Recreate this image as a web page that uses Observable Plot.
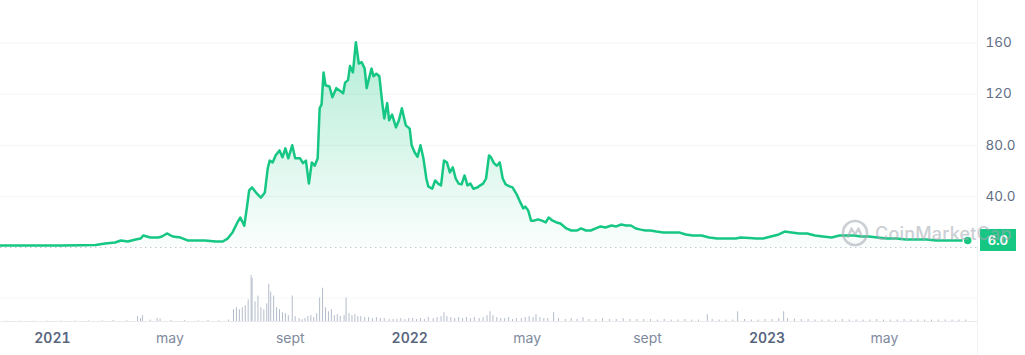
<!DOCTYPE html>
<html><head><meta charset="utf-8">
<script src="https://cdn.jsdelivr.net/npm/d3@7"></script>
<script src="https://cdn.jsdelivr.net/npm/@observablehq/plot@0.6"></script>
<style>
body{margin:0;background:#fff;font-family:Inter,"Noto Sans",sans-serif;}
#chart{position:relative;width:1025px;height:355px;overflow:hidden;background:#fff}
#chart svg{display:block}
#wm{position:absolute;left:841px;top:219px;display:flex;align-items:center;gap:6px;opacity:0.55;pointer-events:none;
  font-family:Inter,sans-serif;font-size:18px;font-weight:500;color:#a3a8b2;letter-spacing:0.2px}
</style></head><body>
<div id="chart"></div>
<script>
// ---- price series (USD) ----
const priceDates = ["2020-11-09","2020-11-29","2020-12-20","2021-01-09","2021-01-30","2021-02-14","2021-02-24","2021-03-06","2021-03-12","2021-03-19","2021-03-27","2021-04-01","2021-04-04","2021-04-11","2021-04-19","2021-04-23","2021-04-28","2021-05-04","2021-05-12","2021-05-19","2021-05-27","2021-06-06","2021-06-17","2021-06-24","2021-06-29","2021-07-04","2021-07-09","2021-07-12","2021-07-16","2021-07-19","2021-07-21","2021-07-24","2021-07-28","2021-08-02","2021-08-06","2021-08-09","2021-08-11","2021-08-14","2021-08-17","2021-08-21","2021-08-24","2021-08-27","2021-08-30","2021-09-03","2021-09-06","2021-09-11","2021-09-14","2021-09-17","2021-09-20","2021-09-23","2021-09-26","2021-09-29","2021-10-01","2021-10-03","2021-10-05","2021-10-07","2021-10-11","2021-10-14","2021-10-18","2021-10-21","2021-10-25","2021-10-27","2021-10-30","2021-11-01","2021-11-04","2021-11-07","2021-11-10","2021-11-13","2021-11-16","2021-11-18","2021-11-20","2021-11-23","2021-11-25","2021-11-28","2021-12-01","2021-12-04","2021-12-06","2021-12-09","2021-12-11","2021-12-14","2021-12-18","2021-12-21","2021-12-24","2021-12-28","2022-01-01","2022-01-03","2022-01-06","2022-01-09","2022-01-12","2022-01-15","2022-01-18","2022-01-20","2022-01-24","2022-01-27","2022-01-30","2022-02-02","2022-02-05","2022-02-08","2022-02-11","2022-02-14","2022-02-17","2022-02-20","2022-02-23","2022-02-26","2022-03-01","2022-03-04","2022-03-07","2022-03-11","2022-03-14","2022-03-17","2022-03-20","2022-03-23","2022-03-25","2022-03-28","2022-03-31","2022-04-03","2022-04-06","2022-04-09","2022-04-13","2022-04-16","2022-04-20","2022-04-23","2022-04-27","2022-04-29","2022-05-02","2022-05-05","2022-05-08","2022-05-12","2022-05-16","2022-05-20","2022-05-23","2022-05-27","2022-05-31","2022-06-04","2022-06-10","2022-06-15","2022-06-21","2022-06-25","2022-06-30","2022-07-05","2022-07-10","2022-07-15","2022-07-20","2022-07-26","2022-07-31","2022-08-05","2022-08-10","2022-08-15","2022-08-20","2022-08-25","2022-08-30","2022-09-04","2022-09-10","2022-09-17","2022-09-25","2022-10-03","2022-10-10","2022-10-17","2022-10-26","2022-11-03","2022-11-11","2022-11-20","2022-11-30","2022-12-05","2022-12-14","2022-12-21","2022-12-28","2023-01-05","2023-01-13","2023-01-19","2023-01-26","2023-02-03","2023-02-11","2023-02-19","2023-02-27","2023-03-08","2023-03-16","2023-03-24","2023-03-31","2023-04-07","2023-04-15","2023-04-24","2023-05-03","2023-05-13","2023-05-23","2023-06-02","2023-06-13","2023-06-23","2023-07-03","2023-07-13","2023-07-25"];
const priceValues = [1.6,1.5,1.6,1.5,1.7,2.0,3.1,3.9,5.5,4.7,6.3,7.0,9.4,7.8,7.8,8.6,11,8.6,7.8,5.5,5.5,5.5,4.7,4.7,7.0,11.8,19.6,23.5,17,33,44.7,47,43,39,43,62,68,66.6,72,76,70.6,77.6,69.8,80,69.8,69.8,66,68,50,66.6,64,69.8,109,112,137,127,126,117.6,124.7,123,120.7,129,131,142,137,160.7,144,145,140,124.7,131,140,134,136,134,113,101,113,99.6,104,94,99.6,109,95.6,93,80,74.5,71,80,69.8,54,47.8,46,52.5,50,48.6,68,66.6,58.8,62.7,54,50,49.4,56.4,48.6,50,46,47,48.6,50,54,72,70.6,66,64,66.6,54,49.4,47.8,47,42,37,30.6,32,29,21,21,22,21,19.6,23.5,21,19.6,18.8,14.9,13.3,13.3,14.9,13.3,13.3,14.9,16.5,15.7,17.2,16.5,18,17.2,17.2,14.9,14,13.3,13.3,12.5,11.8,11.8,11.8,10.2,9.4,9.4,7.8,7.0,7.0,7.0,7.8,7.4,7.0,7.0,8.6,10.2,12.5,11.8,11,11,9.4,8.6,7.8,9.4,9.4,9.4,8.6,8.6,7.8,7.0,7.0,6.3,6.3,6.3,5.5,5.5,5.5,5.5];

// ---- volume series (millions USD) ----
const volDates = ["2020-11-15","2020-11-29","2020-12-13","2020-12-27","2021-01-10","2021-01-24","2021-02-07","2021-02-21","2021-03-04","2021-03-18","2021-03-29","2021-04-01","2021-04-03","2021-04-11","2021-04-18","2021-04-21","2021-05-02","2021-05-16","2021-05-30","2021-06-09","2021-06-20","2021-06-30",
"2021-07-05","2021-07-08","2021-07-11","2021-07-14","2021-07-17","2021-07-20","2021-07-23","2021-07-24","2021-07-27","2021-07-30","2021-08-02","2021-08-05","2021-08-08","2021-08-10","2021-08-12","2021-08-15","2021-08-18","2021-08-21","2021-08-24","2021-08-27","2021-08-30","2021-09-03","2021-09-06","2021-09-10","2021-09-13","2021-09-16","2021-09-19","2021-09-22","2021-09-25","2021-09-28","2021-10-01","2021-10-04","2021-10-07","2021-10-10","2021-10-13","2021-10-16","2021-10-19","2021-10-22","2021-10-26","2021-10-28","2021-10-31","2021-11-03","2021-11-06","2021-11-09","2021-11-12","2021-11-16","2021-11-20","2021-11-24","2021-11-28","2021-12-02","2021-12-06","2021-12-11","2021-12-15","2021-12-19","2021-12-23","2021-12-27","2021-12-31","2022-01-04","2022-01-08","2022-01-12","2022-01-16","2022-01-20","2022-01-25","2022-01-29","2022-02-02","2022-02-05","2022-02-08","2022-02-12","2022-02-16","2022-02-20","2022-02-24","2022-02-28","2022-03-04","2022-03-08","2022-03-13","2022-03-17","2022-03-21","2022-03-24","2022-03-27","2022-03-31","2022-04-04","2022-04-08","2022-04-12","2022-04-16","2022-04-20","2022-04-25","2022-04-29","2022-05-03","2022-05-07","2022-05-10","2022-05-14","2022-05-18","2022-05-22","2022-05-28","2022-06-02","2022-06-09","2022-06-15","2022-06-21","2022-06-27","2022-07-03",
"2022-07-10","2022-07-17","2022-07-24","2022-07-31","2022-08-07","2022-08-14","2022-08-21","2022-08-28","2022-09-04","2022-09-11","2022-09-18","2022-09-25","2022-10-02","2022-10-09","2022-10-16","2022-10-23","2022-11-01","2022-11-06","2022-11-13","2022-11-20","2022-11-27","2022-12-02","2022-12-09","2022-12-16","2022-12-23","2022-12-30","2023-01-06","2023-01-13","2023-01-18","2023-01-22","2023-01-29","2023-02-05","2023-02-12","2023-02-19","2023-02-26","2023-03-05","2023-03-12","2023-03-19","2023-03-26","2023-04-02","2023-04-09","2023-04-16","2023-04-23","2023-04-30","2023-05-07","2023-05-14","2023-05-21","2023-05-28","2023-06-04","2023-06-11","2023-06-18","2023-06-25","2023-07-02","2023-07-09","2023-07-16","2023-07-23"];
const volValues = [0.3,0.3,0.3,0.3,0.4,0.4,0.5,0.6,1,0.8,5,3,6,1.5,3,2.5,1,0.8,0.6,1,0.6,1.5,
12,14,12,14,16,22,47,44,20,26,14,12,18,38,30,26,14,12,9,8,6,26,5,3,2,3,5,6,4,8,24,34,14,10,12,6,7,5,6,24,8,6,7,5,5,4,4,3,4,3,3,2,2,2,3,2,3,3,2,3,2,4,3,4,5,9,5,4,3,4,3,4,3,4,3,4,6,10,6,4,3,3,4,2,3,3,4,5,4,7,4,3,3,9,3,2,3,2,4,2,
2,3,2,2,3,2,2,2,2,1.5,2,1.5,1.5,2,1.5,1.5,7,2,1.5,1.5,1.5,10,2,1.5,1.5,2,2,3,10,3,2.5,2,2,1.5,1.5,1.5,1.5,2,1.5,1.5,1.5,1.5,2,1.5,1.5,1.5,2,1.5,1.5,1.5,1.5,1.5,1.5,1.5,1.5,1.5];

// ---- axes ----
const xDomain = ["2020-11-09","2023-08-04"];
const yearTicks = ["2021-01-01","2022-01-01","2023-01-01"];
const monthTicks = ["2021-05-01","2021-09-01","2022-05-01","2022-09-01","2023-05-01"];
const monthNames = ["jan","feb","mar","apr","may","june","july","aug","sept","oct","nov","dec"];
const yTicks = [40, 80, 120, 160];
const currentLabel = "6.0";

const parse = d3.utcParse("%Y-%m-%d");
const price = priceDates.map((d, i) => ({date: parse(d), value: priceValues[i]}));
const volume = volDates.map((d, i) => ({date: parse(d), value: volValues[i]}));
const last = price[price.length - 1];
const GREEN = "#16c784";
const W = 1025, MR = 48;

const defsMark = () => {
  const g = d3.create("svg:defs");
  const lg = g.append("linearGradient").attr("id", "areaGrad").attr("x1", 0).attr("y1", 0).attr("x2", 0).attr("y2", 1);
  lg.append("stop").attr("offset", "0%").attr("stop-color", GREEN).attr("stop-opacity", 0.32);
  lg.append("stop").attr("offset", "100%").attr("stop-color", GREEN).attr("stop-opacity", 0.02);
  return g.node();
};
const sepMark = (index, scales, values, dim) => {
  const x = dim.width - dim.marginRight + 0.5;
  return d3.create("svg:line").attr("x1", x).attr("x2", x).attr("y1", 0).attr("y2", dim.height)
    .attr("stroke", "#eff1f4").node();
};
const badgeMark = (index, scales, values, dim) => {
  const y = scales.y(last.value);
  const x0 = dim.width - dim.marginRight + 3;
  const g = d3.create("svg:g");
  g.append("rect").attr("x", x0).attr("y", y - 11).attr("width", 36).attr("height", 22).attr("fill", GREEN);
  g.append("text").attr("x", x0 + 18).attr("y", y).attr("dy", "0.36em").attr("text-anchor", "middle")
    .attr("fill", "white").attr("font-size", 13).attr("font-weight", 600).attr("font-family", "Inter, sans-serif")
    .text(currentLabel);
  return g.node();
};

const xScale = {type: "utc", domain: xDomain.map(parse)};
const fmtY = d => d >= 100 ? String(d) : d.toFixed(1);

const pricePlot = Plot.plot({
  width: W, height: 262,
  marginLeft: 0, marginRight: MR, marginTop: 17, marginBottom: 15,
  x: {...xScale, axis: null},
  y: {domain: [0, 180], axis: null},
  style: {fontFamily: "Inter, sans-serif", background: "white"},
  marks: [
    defsMark,
    Plot.gridY(yTicks, {stroke: "#f3f4f6", strokeOpacity: 1}),
    sepMark,
    Plot.ruleY([0], {stroke: "#c3c8d0", strokeDasharray: "1.5,3.5"}),
    Plot.areaY(price, {x: "date", y: "value", fill: "url(#areaGrad)"}),
    Plot.lineY(price, {x: "date", y: "value", stroke: GREEN, strokeWidth: 2.5, strokeLinejoin: "round"}),
    Plot.axisY({anchor: "right", ticks: yTicks, tickSize: 0, tickPadding: 8, tickFormat: fmtY, label: null,
      fontSize: 13.5, fill: "#616e85", textAnchor: "start"}),
    badgeMark,
    Plot.dot([last], {x: "date", y: "value", r: 4.5, fill: GREEN, stroke: "white", strokeWidth: 1.5})
  ]
});

const volPlot = Plot.plot({
  width: W, height: 93,
  marginLeft: 0, marginRight: MR, marginTop: 12, marginBottom: 34,
  x: {...xScale, axis: null},
  y: {domain: [0, 48], axis: null},
  style: {fontFamily: "Inter, sans-serif", background: "white"},
  marks: [
    sepMark,
    Plot.ruleY([24], {stroke: "#f6f7f8"}),
    Plot.ruleY([0], {stroke: "#e8eaee"}),
    Plot.ruleX(volume, {x: "date", y1: 0, y2: "value", stroke: "#b4bccb", strokeWidth: 1}),
    Plot.axisX({ticks: yearTicks.map(parse), tickSize: 0, tickPadding: 12, tickFormat: d3.utcFormat("%Y"), label: null,
      fontSize: 14, fontWeight: 600, fill: "#58667e"}),
    Plot.axisX({ticks: monthTicks.map(parse), tickSize: 0, tickPadding: 12, tickFormat: d => monthNames[d.getUTCMonth()], label: null,
      fontSize: 14, fontWeight: 400, fill: "#808a9d"})
  ]
});

const chart = document.getElementById("chart");
chart.append(pricePlot, volPlot);

// watermark
const wm = document.createElement("div");
wm.id = "wm";
wm.innerHTML = '<svg width="28" height="28" viewBox="0 0 28 28"><circle cx="14" cy="14" r="12" fill="none" stroke="#a3a8b2" stroke-width="2.6"/>' +
  '<path d="M7 18 L10.5 9.5 L14 15.5 L17.5 9.5 L21 18" fill="none" stroke="#a3a8b2" stroke-width="2.4" stroke-linejoin="round" stroke-linecap="round"/></svg>' +
  '<span>CoinMarketCap</span>';
chart.append(wm);
</script>
</body></html>
